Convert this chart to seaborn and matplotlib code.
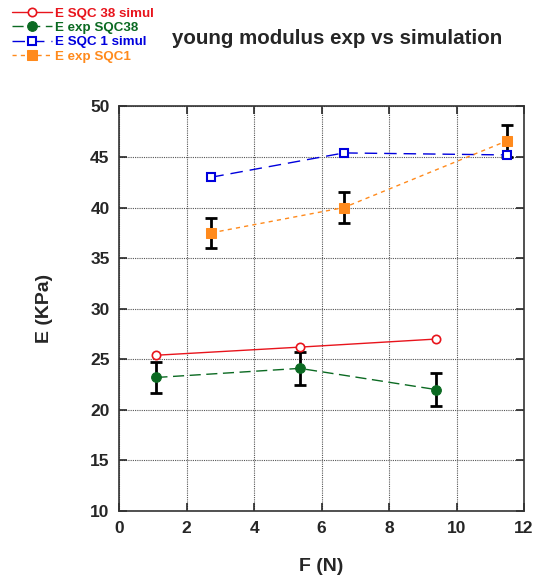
import numpy as np
import pandas as pd
import matplotlib
matplotlib.use("Agg")
import matplotlib.pyplot as plt
import seaborn as sns

# data
f_38 = [1.10, 5.35, 9.40]
e_sim_38 = [25.4, 26.2, 27.0]
e_exp_38 = [23.2, 24.1, 22.0]
err_38 = [1.5, 1.6, 1.6]

f_1 = [2.73, 6.66, 11.50]
e_sim_1 = [43.0, 45.4, 45.2]
e_exp_1 = [37.5, 40.0, 46.6]
err_1 = [1.5, 1.5, 1.6]

labels = ["E SQC 38 simul", "E exp SQC38", "E SQC 1 simul", "E exp SQC1"]

sns.set_style("ticks")
plt.rcParams["font.family"] = ["Liberation Sans", "DejaVu Sans"]
plt.rcParams["font.weight"] = "bold"

fig = plt.figure(figsize=(5.33, 5.77), dpi=100)
ax = fig.add_axes([0.2238, 0.1144, 0.7593, 0.7012])

red = "#e8141c"
green = "#0b6a22"
blue = "#0000dd"
orange = "#ff8a1c"

#error bars first so markers sit on top
ax.errorbar(f_38, e_exp_38, yerr=err_38, fmt="none", ecolor="black", elinewidth=2, capsize=4, capthick=2, zorder=3)
ax.errorbar(f_1, e_exp_1, yerr=err_1, fmt="none", ecolor="black", elinewidth=2, capsize=4, capthick=2, zorder=3)

sns.lineplot(x=f_38, y=e_sim_38, ax=ax, color=red, lw=1.0, marker="o", markersize=6,
             markerfacecolor="white", markeredgecolor=red, markeredgewidth=1.2, label=labels[0], zorder=4)
sns.lineplot(x=f_38, y=e_exp_38, ax=ax, color=green, lw=1.0, marker="o", markersize=7,
             markeredgecolor=green, label=labels[1], zorder=4)
sns.lineplot(x=f_1, y=e_sim_1, ax=ax, color=blue, lw=1.0, marker="s", markersize=6,
             markerfacecolor="white", markeredgecolor=blue, markeredgewidth=1.5, label=labels[2], zorder=4)
sns.lineplot(x=f_1, y=e_exp_1, ax=ax, color=orange, lw=1.0, marker="s", markersize=7,
             markeredgecolor=orange, label=labels[3], zorder=4)

ls_list = ["-", (0, (8, 4)), (0, (9, 5)), (0, (3, 3))]
for ln, ls in zip(ax.lines[-4:], ls_list):
    ln.set_linestyle(ls)

ax.set_xlim(0, 12)
ax.set_ylim(10, 50)
ax.set_xticks(np.arange(0, 13, 2))
ax.set_yticks(np.arange(10, 51, 5))
ax.grid(True, color="#555555", linestyle=(0, (1, 1)), linewidth=0.8)
ax.tick_params(direction="in", length=6, width=1.2, top=True, right=True,
               labelsize=12.5, pad=7)
for lab in ax.get_xticklabels() + ax.get_yticklabels():
    lab.set_fontweight("bold")
for sp in ax.spines.values():
    sp.set_linewidth(1.2)
    sp.set_color("#333333")

ax.set_xlabel("F (N)", fontsize=14, fontweight="bold", labelpad=16)
ax.set_ylabel("E (KPa)", fontsize=14, fontweight="bold", labelpad=27)
fig.text(0.632, 0.934, "young modulus exp vs simulation", fontsize=14.8,
         fontweight="bold", ha="center", va="center")

leg = ax.legend(loc="upper left", bbox_to_anchor=(0.016, 0.993), bbox_transform=fig.transFigure,
                frameon=False, fontsize=9.6, handlelength=3.0, handletextpad=0.25,
                labelspacing=0.15, borderaxespad=0.05, borderpad=0.2, labelcolor="linecolor")
for t in leg.get_texts():
    t.set_fontweight("bold")

fig.savefig("out.png", dpi=100)
